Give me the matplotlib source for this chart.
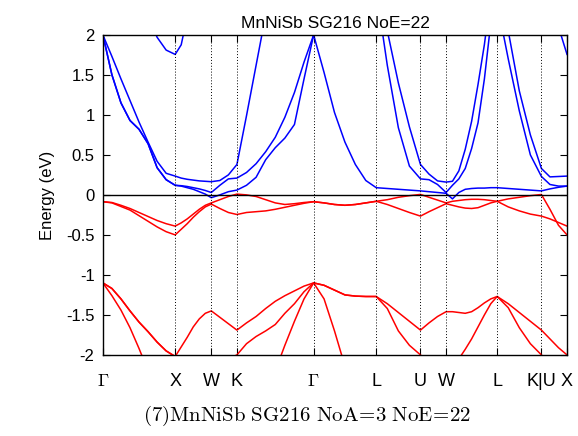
import numpy as np
import matplotlib
matplotlib.use('Agg')
import matplotlib.pyplot as plt

plt.rcParams['font.family'] = ['Liberation Sans', 'DejaVu Sans']
plt.rcParams['axes.unicode_minus'] = False
plt.rcParams['mathtext.fontset'] = 'cm'

# high-symmetry path
kpt_labels = [r'$\Gamma$', 'X', 'W', 'K', r'$\Gamma$', 'L', 'U', 'W', 'L', 'K|U', 'X']
seg_len = [1.0, 0.5, 0.354, 1.061, 0.866, 0.612, 0.354, 0.707, 0.612, 0.354]
seg_div = [8, 6, 3, 8, 6, 4, 3, 8, 4, 3]

# conduction bands (eV), sampled along the path
C1 = [2.0, 1.5, 1.15, 0.93, 0.82, 0.64, 0.34, 0.19, 0.12,
      0.11, 0.09, 0.07, 0.04, 0.01, -0.035,
      0.0, 0.04, 0.06,
      0.12, 0.22, 0.44, 0.59, 0.71, 0.88, 1.45, 2.0,
      1.53, 1.03, 0.66, 0.38, 0.18, 0.09,
      0.08, 0.07, 0.06, 0.05,
      0.04, 0.03, 0.02,
      -0.05, 0.03, 0.07, 0.08, 0.085, 0.085, 0.09, 0.09,
      0.08, 0.07, 0.06, 0.05,
      0.075, 0.095, 0.11]
C2 = [2.0, 1.5, 1.15, 0.93, 0.82, 0.64, 0.34, 0.19, 0.12,
      0.115, 0.105, 0.09, 0.075, 0.055, 0.03,
      0.12, 0.20, 0.21,
      0.28, 0.39, 0.54, 0.72, 0.97, 1.28, 1.66, 2.0,
      2.3, 2.6, 2.8, 2.9, 2.8, 2.56,
      1.62, 0.84, 0.36, 0.2,
      0.19, 0.13, 0.03,
      0.12, 0.2, 0.33, 0.58, 0.9, 1.45, 2.15, 2.4,
      1.7, 1.05, 0.5, 0.23,
      0.13, 0.11, 0.11]
C3 = [2.0, 1.73, 1.45, 1.18, 0.91, 0.66, 0.42, 0.27, 0.235,
      0.21, 0.195, 0.185, 0.175, 0.17, 0.165,
      0.18, 0.25, 0.38,
      0.99, 1.62, 2.25, 2.6, 2.8, 2.7, 2.4, 2.02,
      2.4, 2.7, 2.9, 3.0, 2.9, 2.7,
      2.05, 1.40, 0.85, 0.38,
      0.26, 0.175, 0.16,
      0.17, 0.3, 0.57, 0.92, 1.38, 1.88, 2.5, 2.7,
      2.05, 1.3, 0.75, 0.33,
      0.225, 0.23, 0.235]
C4 = [3.2, 3.2, 3.0, 2.75, 2.5, 2.23, 1.97, 1.81, 1.756,
      1.876, 2.23, 2.7, 3.0, 3.2, 3.2,
      3.2, 3.2, 3.2,
      3.2, 3.2, 3.2, 3.2, 3.2, 3.2, 3.2, 3.2,
      3.2, 3.2, 3.2, 3.2, 3.2, 3.2,
      3.2, 3.2, 3.2, 3.2,
      3.2, 3.2, 3.2,
      3.2, 3.2, 3.2, 3.2, 3.2, 3.2, 3.2, 3.2,
      3.2, 3.2, 3.2, 3.2,
      3.2, 2.10, 1.756]

# valence bands (eV)
V1 = [-0.085, -0.095, -0.13, -0.17, -0.22, -0.27, -0.32, -0.36, -0.39,
      -0.35, -0.30, -0.24, -0.18, -0.13, -0.10,
      -0.06, -0.02, 0.01,
      0.0, -0.02, -0.06, -0.10, -0.12, -0.11, -0.095, -0.085,
      -0.10, -0.12, -0.13, -0.12, -0.10, -0.08,
      -0.06, -0.03, -0.01, 0.006,
      -0.03, -0.065, -0.10,
      -0.08, -0.07, -0.06, -0.055, -0.055, -0.06, -0.07, -0.08,
      -0.05, -0.03, -0.01, 0.005,
      -0.18, -0.38, -0.50]
V2 = [-0.085, -0.10, -0.145, -0.19, -0.26, -0.33, -0.40, -0.46, -0.50,
      -0.43, -0.36, -0.28, -0.21, -0.15, -0.115,
      -0.17, -0.22, -0.245,
      -0.22, -0.21, -0.20, -0.18, -0.155, -0.13, -0.105, -0.085,
      -0.10, -0.12, -0.13, -0.12, -0.10, -0.08,
      -0.12, -0.17, -0.22, -0.265,
      -0.21, -0.16, -0.11,
      -0.13, -0.15, -0.165, -0.17, -0.16, -0.13, -0.10, -0.08,
      -0.15, -0.20, -0.24, -0.265,
      -0.30, -0.345, -0.39]
La = [-1.10, -1.17, -1.30, -1.45, -1.59, -1.71, -1.84, -1.95, -2.02,
      -1.90, -1.78, -1.65, -1.55, -1.48, -1.45,
      -1.53, -1.61, -1.69,
      -1.60, -1.52, -1.42, -1.33, -1.26, -1.20, -1.14, -1.10,
      -1.13, -1.19, -1.25, -1.265, -1.27, -1.27,
      -1.36, -1.47, -1.58, -1.69,
      -1.60, -1.52, -1.46,
      -1.46, -1.47, -1.48, -1.46, -1.41, -1.35, -1.30, -1.27,
      -1.36, -1.47, -1.58, -1.69,
      -1.80, -1.91, -2.0]
Lb = [-1.10, -1.26, -1.44, -1.66, -1.92, -2.2, -2.4, -2.6, -2.7,
      -2.6, -2.5, -2.4, -2.3, -2.25, -2.2,
      -2.12, -2.05, -2.0,
      -1.86, -1.77, -1.70, -1.62, -1.48, -1.36, -1.21, -1.10,
      -1.13, -1.19, -1.25, -1.265, -1.27, -1.27,
      -1.42, -1.70, -1.88, -2.0,
      -2.1, -2.2, -2.3,
      -2.2, -2.05, -1.93, -1.80, -1.65, -1.50, -1.36, -1.27,
      -1.41, -1.66, -1.86, -2.0,
      -2.1, -2.15, -2.2]
Lc = [-1.10, -1.17, -1.30, -1.45, -1.59, -1.71, -1.84, -1.95, -2.02,
      -2.1, -2.3, -2.5, -2.7, -2.9, -3.0,
      -3.1, -3.2, -3.2,
      -3.0, -2.8, -2.5, -2.2, -1.88, -1.58, -1.30, -1.10,
      -1.30, -1.70, -2.14, -2.6, -2.9, -3.0,
      -2.9, -2.8, -2.7, -2.6,
      -2.55, -2.5, -2.5,
      -2.5, -2.5, -2.5, -2.5, -2.5, -2.5, -2.45, -2.4,
      -2.4, -2.4, -2.4, -2.4,
      -2.3, -2.2, -2.1]

# build k axis from segment lengths
kticks = np.concatenate([[0.0], np.cumsum(seg_len)])
k = [0.0]
for i, n in enumerate(seg_div):
    k.extend(np.linspace(kticks[i], kticks[i + 1], n + 1)[1:])
k = np.array(k)

fig = plt.figure(figsize=(5.78, 4.36), dpi=100)
ax = fig.add_axes([0.178, 0.186, 0.803, 0.734])

for b in [C1, C2, C3, C4]:
    ax.plot(k, b, color='#0000ff', lw=1.1)
for b in [V1, V2, La, Lb, Lc]:
    ax.plot(k, b, color='#ff0000', lw=1.1)

for kt in kticks[1:-1]:
    ax.axvline(kt, color='k', ls=(0, (1, 2)), lw=0.7)
ax.axhline(0, color='k', lw=1.0)

ax.set_xlim(kticks[0], kticks[-1])
ax.set_ylim(-2, 2)
ax.set_xticks(kticks)
ax.set_xticklabels(kpt_labels, fontsize=13)
yt = np.arange(-2, 2.01, 0.5)
ax.set_yticks(yt)
ax.set_yticklabels(['%g' % v for v in yt], fontsize=12)
ax.tick_params(direction='in', length=5, top=True, right=True, pad=6)
ax.tick_params(axis='x', pad=13)
for s in ax.spines.values():
    s.set_linewidth(1.0)

ax.set_ylabel('Energy (eV)', fontsize=12, labelpad=8)
ax.set_title('MnNiSb SG216 NoE=22', fontsize=12.5, pad=5)
fig.text(0.531, 0.045, r'$\mathrm{(7)MnNiSb\ SG216\ NoA\!=\!3\ NoE\!=\!22}$',
         ha='center', va='center', fontsize=15)

fig.savefig('out.png', dpi=100)
